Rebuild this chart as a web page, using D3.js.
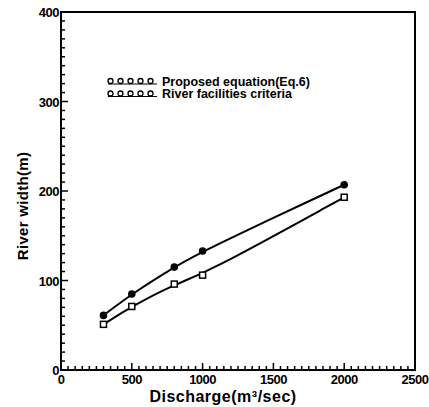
<!DOCTYPE html>
<html><head><meta charset="utf-8">
<script src="https://d3js.org/d3.v7.min.js"></script>
<style>body{margin:0;background:#fff}svg{display:block}text{font-family:"Liberation Sans",Arial,sans-serif;font-weight:bold;fill:#000}</style>
</head><body>
<script>
const discharge = [300, 500, 800, 1000, 2000];
const proposed = [61, 85, 115, 133, 207];
const riverCriteria = [51, 71, 96, 106, 193];
const seriesNames = ["Proposed  equation(Eq.6)", "River  facilities  criteria"];
const xTicks = [0, 500, 1000, 1500, 2000, 2500];
const yTicks = [0, 100, 200, 300, 400];

const W = 429, H = 407;
const m = {l: 61, r: 14, t: 12, b: 37};
const svg = d3.select("body").append("svg").attr("width", W).attr("height", H);
const x = d3.scaleLinear().domain([0, 2500]).range([m.l, W - m.r]);
const y = d3.scaleLinear().domain([0, 400]).range([H - m.b, m.t]);

// frame
svg.append("rect").attr("x", x(0)).attr("y", y(400)).attr("width", x(2500) - x(0)).attr("height", y(0) - y(400))
  .attr("fill", "none").attr("stroke", "#000").attr("stroke-width", 2);

// ticks (inward)
const yMinor = d3.range(0, 401, 10);
svg.append("g").selectAll("line").data(yMinor).join("line")
  .attr("x1", x(0)).attr("x2", d => x(0) + (d % 100 === 0 ? 7 : 4))
  .attr("y1", d => y(d)).attr("y2", d => y(d)).attr("stroke", "#000").attr("stroke-width", 1.5);
const xMinor = d3.range(0, 2501, 50);
svg.append("g").selectAll("line").data(xMinor).join("line")
  .attr("y1", y(0)).attr("y2", d => y(0) - (d % 500 === 0 ? 7 : 4))
  .attr("x1", d => x(d)).attr("x2", d => x(d)).attr("stroke", "#000").attr("stroke-width", 1.5);

// tick labels
svg.append("g").selectAll("text").data(yTicks).join("text")
  .attr("x", x(0) - 2).attr("y", d => y(d) + 5).attr("text-anchor", "end")
  .attr("font-size", 13).attr("letter-spacing", -0.5).text(d => d);
svg.append("g").selectAll("text").data(xTicks).join("text")
  .attr("x", d => x(d)).attr("y", y(0) + 14).attr("text-anchor", "middle")
  .attr("font-size", 13).attr("letter-spacing", -0.5).text(d => d);

// axis titles
svg.append("text").attr("x", 223).attr("y", 402).attr("text-anchor", "middle").attr("font-size", 16)
  .attr("letter-spacing", 0.5).text("Discharge(m³/sec)");
svg.append("text").attr("transform", "translate(28,206) rotate(-90)").attr("text-anchor", "middle")
  .attr("font-size", 15).attr("letter-spacing", 0.3).text("River  width(m)");

// lines
const line = d3.line().x(d => x(d[0])).y(d => y(d[1])).curve(d3.curveBasis);
const p1 = discharge.map((d, i) => [d, proposed[i]]);
const p2 = discharge.map((d, i) => [d, riverCriteria[i]]);
svg.append("path").datum(p1).attr("d", line).attr("fill", "none").attr("stroke", "#000").attr("stroke-width", 2);
svg.append("path").datum(p2).attr("d", line).attr("fill", "none").attr("stroke", "#000").attr("stroke-width", 2);

svg.append("g").selectAll("circle").data(p1).join("circle")
  .attr("cx", d => x(d[0])).attr("cy", d => y(d[1])).attr("r", 3.8).attr("fill", "#000");
svg.append("g").selectAll("rect").data(p2).join("rect")
  .attr("x", d => x(d[0]) - 3).attr("y", d => y(d[1]) - 3).attr("width", 6).attr("height", 6)
  .attr("fill", "#fff").attr("stroke", "#000").attr("stroke-width", 1.5);

// legend
const lg = svg.append("g");
seriesNames.forEach((name, i) => {
  const ly = 81 + i * 12.5;
  lg.append("line").attr("x1", 108).attr("x2", 157).attr("y1", ly + 3).attr("y2", ly + 3).attr("stroke", "#000").attr("stroke-width", 1.2);
  for (let k = 0; k < 5; k++) {
    lg.append("circle").attr("cx", 110.5 + k * 10).attr("cy", ly).attr("r", 2.5)
      .attr("fill", "none").attr("stroke", "#000").attr("stroke-width", 1.3);
  }
  lg.append("text").attr("x", 162).attr("y", ly + 4.5).attr("font-size", 12.5).text(name);
});
</script>
</body></html>
